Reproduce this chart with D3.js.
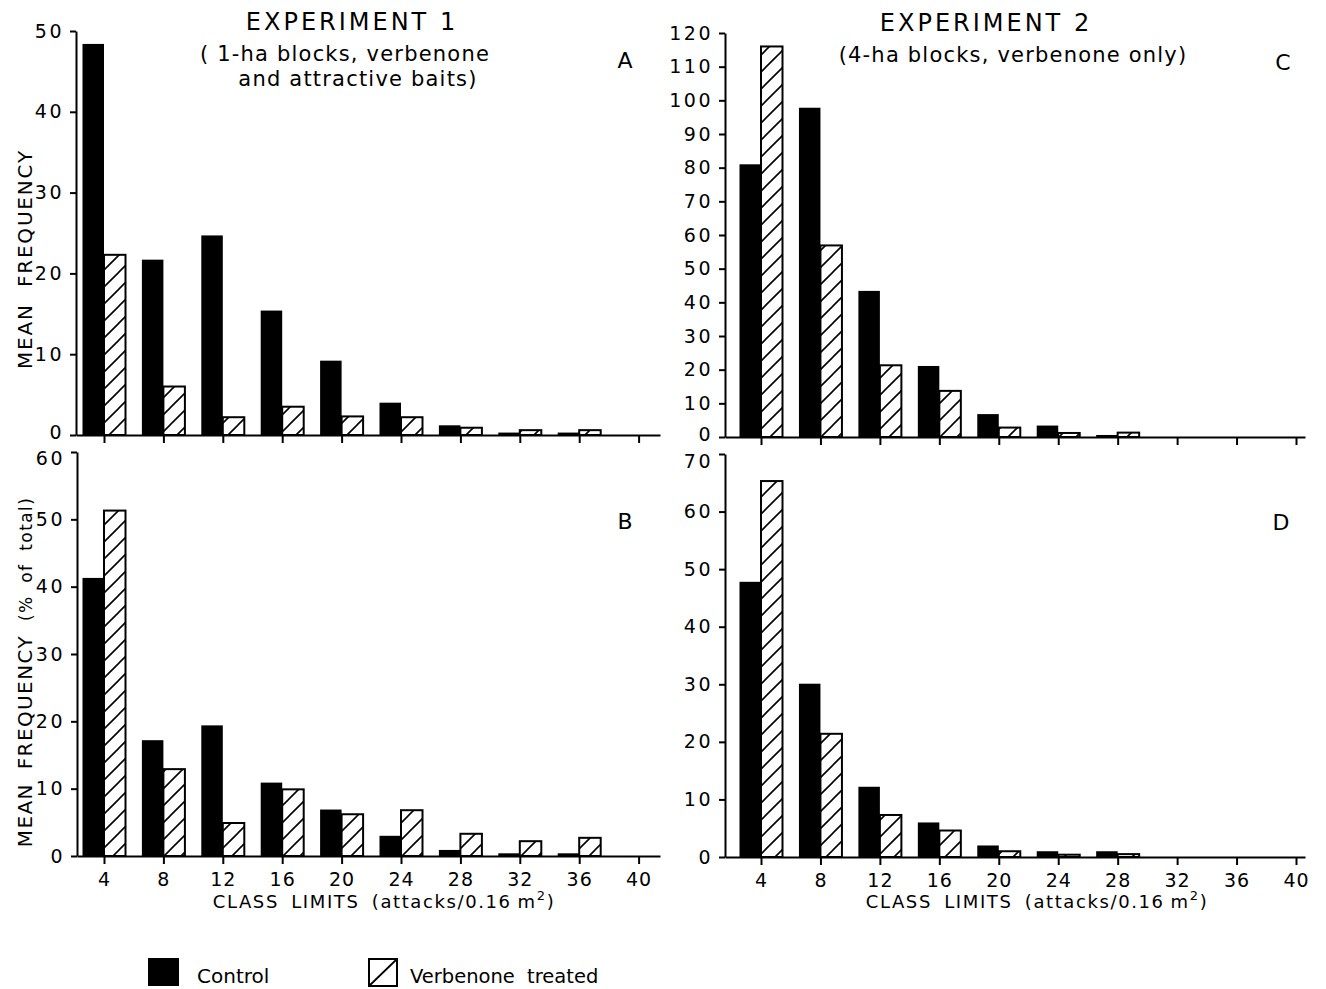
<!DOCTYPE html>
<html>
<head>
<meta charset="utf-8">
<script src="https://cdn.jsdelivr.net/npm/d3@7"></script>
<style>
  html, body { margin: 0; padding: 0; background: #fff; }
  svg { display: block; }
  text { font-family: "DejaVu Sans", sans-serif; fill: #000; }
</style>
</head>
<body>
<svg id="chart" width="1326" height="989"></svg>
<script>
// ---------------- data ----------------
const classLimits = [4, 8, 12, 16, 20, 24, 28, 32, 36, 40];
const xTickLabels = ["4", "8", "12", "16", "20", "24", "28", "32", "36", "40"];

// Panel A: Experiment 1, mean frequency
const aControl = [48.4, 21.7, 24.7, 15.4, 9.2, 4.0, 1.2, 0.3, 0.3, 0];
const aTreated = [22.3, 6.0, 2.2, 3.5, 2.3, 2.2, 0.9, 0.6, 0.6, 0];
// Panel B: Experiment 1, % of total
const bControl = [41.3, 17.2, 19.4, 10.9, 6.9, 3.0, 0.9, 0.4, 0.4, 0];
const bTreated = [51.3, 12.9, 4.9, 9.9, 6.2, 6.8, 3.3, 2.2, 2.7, 0];
// Panel C: Experiment 2, mean frequency
const cControl = [81.0, 97.8, 43.4, 21.1, 6.8, 3.4, 0.6, 0, 0, 0];
const cTreated = [116.0, 56.9, 21.3, 13.7, 2.8, 1.2, 1.3, 0, 0, 0];
// Panel D: Experiment 2, % of total
const dControl = [47.8, 30.1, 12.2, 6.0, 2.0, 1.0, 1.0, 0, 0, 0];
const dTreated = [65.3, 21.4, 7.3, 4.6, 1.0, 0.4, 0.5, 0, 0, 0];

const aYTicks = [0, 10, 20, 30, 40, 50];
const bYTicks = [0, 10, 20, 30, 40, 50, 60];
const cYTicks = [0, 10, 20, 30, 40, 50, 60, 70, 80, 90, 100, 110, 120];
const dYTicks = [0, 10, 20, 30, 40, 50, 60, 70];

const seriesNames = ["Control", "Verbenone treated"];

// ---------------- drawing ----------------
const svg = d3.select("#chart");
const defs = svg.append("defs");
const pat = defs.append("pattern")
  .attr("id", "hatch").attr("patternUnits", "userSpaceOnUse")
  .attr("width", 17).attr("height", 17);
pat.append("rect").attr("width", 17).attr("height", 17).attr("fill", "#fff");
pat.append("path")
  .attr("d", "M0,17 L17,0 M-4,4 L4,-4 M13,21 L21,13")
  .attr("stroke", "#000").attr("stroke-width", 1.6);

const BW = 21.5;

function panel(cfg) {
  const g = svg.append("g");
  const x = d3.scaleLinear().domain([4, 40]).range([cfg.x4, cfg.x40]);
  const xAxisScale = x.copy().domain([x.invert(cfg.left), x.invert(cfg.right)]).range([cfg.left, cfg.right]);
  const yMax = d3.max(cfg.yTicks);
  const y = d3.scaleLinear().domain([0, yMax]).range([cfg.bottom, cfg.top]);

  const rows = classLimits.map((c, i) => ({ c, ctl: cfg.control[i], trt: cfg.treated[i] }));
  g.selectAll("rect.ctl").data(rows.filter(d => d.ctl > 0)).join("rect")
    .attr("class", "ctl")
    .attr("x", d => x(d.c) - BW).attr("width", BW)
    .attr("y", d => y(d.ctl)).attr("height", d => y(0) - y(d.ctl))
    .attr("fill", "#000");
  g.selectAll("rect.trt").data(rows.filter(d => d.trt > 0)).join("rect")
    .attr("class", "trt")
    .attr("x", d => x(d.c)).attr("width", BW)
    .attr("y", d => y(d.trt)).attr("height", d => y(0) - y(d.trt))
    .attr("fill", "url(#hatch)").attr("stroke", "#000").attr("stroke-width", 2);

  const xa = g.append("g").attr("transform", `translate(0,${cfg.bottom})`)
    .call(d3.axisBottom(xAxisScale).tickValues(classLimits)
      .tickFormat((d, i) => cfg.xLabels ? xTickLabels[i] : "")
      .tickSize(8).tickSizeOuter(0).tickPadding(9));
  xa.select(".domain").attr("stroke-width", 2);
  xa.selectAll(".tick line").attr("stroke-width", 2);
  xa.selectAll("text").style("font-size", "19px").attr("letter-spacing", 1);

  const ya = g.append("g").attr("transform", `translate(${cfg.left},0)`)
    .call(d3.axisLeft(y).tickValues(cfg.yTicks).tickSize(6).tickSizeOuter(0).tickPadding(6));
  ya.select(".domain").attr("stroke-width", 2);
  ya.selectAll(".tick line").attr("stroke-width", 2);
  ya.selectAll("text").style("font-size", "19px").attr("letter-spacing", 2.5)
    .attr("dy", d => {
      if (cfg.xLabels && d === yMax) return (cfg.topLabelShift + 6) + "px";
      if (!cfg.xLabels && d === 0) return (6 - 3) + "px";
      return "0.32em";
    });

  g.append("text").attr("x", cfg.letterX).attr("y", cfg.letterY)
    .attr("text-anchor", "middle").style("font-size", "22px").text(cfg.letter);
  return { x, y };
}

panel({ left: 76, right: 660, x4: 104, x40: 638.6, top: 31, bottom: 435,
  yTicks: aYTicks, control: aControl, treated: aTreated, xLabels: false,
  letter: "A", letterX: 625, letterY: 68 });
panel({ left: 77, right: 660, x4: 104, x40: 638.6, top: 452, bottom: 856,
  yTicks: bYTicks, control: bControl, treated: bTreated, xLabels: true, topLabelShift: 6,
  letter: "B", letterX: 625, letterY: 529 });
panel({ left: 725, right: 1305, x4: 761, x40: 1296, top: 33, bottom: 437,
  yTicks: cYTicks, control: cControl, treated: cTreated, xLabels: false,
  letter: "C", letterX: 1283, letterY: 70 });
panel({ left: 725, right: 1305, x4: 761, x40: 1296, top: 454, bottom: 857,
  yTicks: dYTicks, control: dControl, treated: dTreated, xLabels: true, topLabelShift: 7,
  letter: "D", letterX: 1281, letterY: 530 });

function txt(x, y, s, size, ls) {
  return svg.append("text").attr("x", x).attr("y", y)
    .attr("text-anchor", "middle")
    .attr("letter-spacing", ls).style("font-size", size + "px").text(s);
}
txt(352, 30, "EXPERIMENT 1", 24, 3);
txt(345, 61, "( 1-ha blocks, verbenone", 21, 1.2);
txt(358, 86, "and attractive baits)", 21, 1.2);
txt(986, 31, "EXPERIMENT 2", 24, 3);
txt(1013, 62, "(4-ha blocks, verbenone only)", 21, 1.2);

svg.append("text").attr("transform", "translate(32,259) rotate(-90)")
  .attr("text-anchor", "middle").attr("letter-spacing", 1.8).attr("word-spacing", 8)
  .style("font-size", "20px").text("MEAN FREQUENCY");
const yb = svg.append("text").attr("transform", "translate(32,672) rotate(-90)")
  .attr("text-anchor", "middle").attr("letter-spacing", 1.4).attr("word-spacing", 6)
  .style("font-size", "20px");
yb.append("tspan").text("MEAN FREQUENCY ");
yb.append("tspan").style("font-size", "17px").text("(% of total)");

function xTitle(cx) {
  const t = svg.append("text").attr("x", cx).attr("y", 908)
    .attr("text-anchor", "middle").attr("letter-spacing", 1.6).attr("word-spacing", 5)
    .style("font-size", "18px");
  t.append("tspan").text("CLASS LIMITS (attacks/0.16");
  t.append("tspan").attr("dx", 6).text("m");
  t.append("tspan").attr("dy", -8).style("font-size", "13px").text("2");
  t.append("tspan").attr("dy", 8).text(")");
}
xTitle(384);
xTitle(1037);

const lg = svg.append("g");
lg.append("rect").attr("x", 148).attr("y", 958).attr("width", 31).attr("height", 28).attr("fill", "#000");
lg.append("text").attr("x", 197).attr("y", 983).style("font-size", "20px").text(seriesNames[0]);
lg.append("rect").attr("x", 369).attr("y", 959).attr("width", 28).attr("height", 27)
  .attr("fill", "#fff").attr("stroke", "#000").attr("stroke-width", 2);
lg.append("line").attr("x1", 369).attr("y1", 986).attr("x2", 397).attr("y2", 959)
  .attr("stroke", "#000").attr("stroke-width", 1.8);
lg.append("text").attr("x", 410).attr("y", 983).attr("word-spacing", 6).style("font-size", "19.5px").text(seriesNames[1]);
</script>
</body>
</html>
